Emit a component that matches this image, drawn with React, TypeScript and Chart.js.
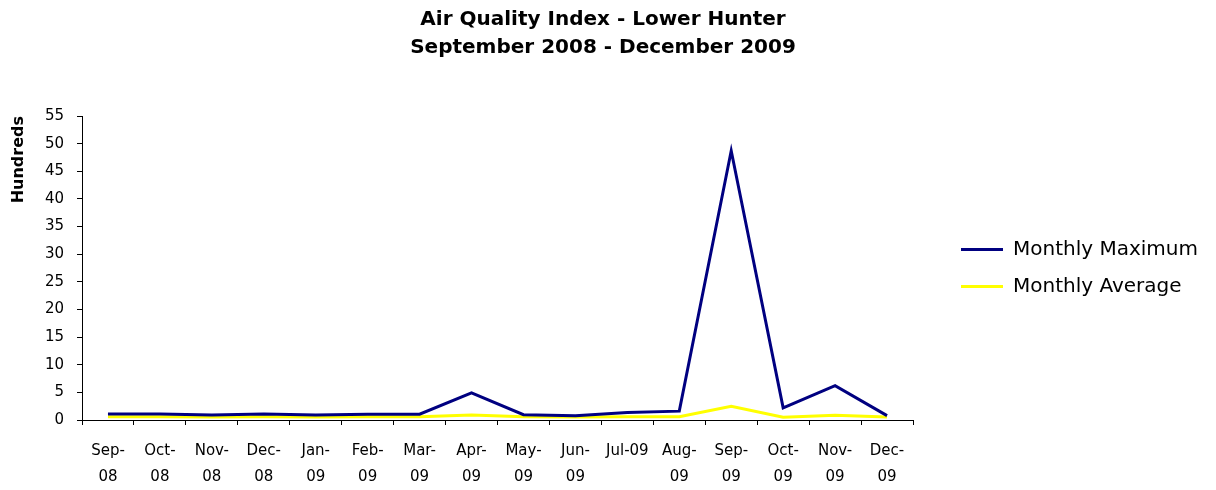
import React, { useEffect, useRef } from 'react';
import { Chart, registerables } from 'chart.js';

Chart.register(...registerables);

const FONT = '"DejaVu Sans", sans-serif';

const titleLines = ['Air Quality Index - Lower Hunter', 'September 2008 - December 2009'];
const yAxisTitle = 'Hundreds';

const categories: (string | string[])[] = [
  ['Sep-', '08'], ['Oct-', '08'], ['Nov-', '08'], ['Dec-', '08'],
  ['Jan-', '09'], ['Feb-', '09'], ['Mar-', '09'], ['Apr-', '09'],
  ['May-', '09'], ['Jun-', '09'], 'Jul-09', ['Aug-', '09'],
  ['Sep-', '09'], ['Oct-', '09'], ['Nov-', '09'], ['Dec-', '09'],
];

const monthlyMaximum = [1.1, 1.1, 0.9, 1.1, 0.9, 1.05, 1.05, 4.9, 0.95, 0.75, 1.35, 1.6, 48.7, 2.2, 6.2, 0.8];
const monthlyAverage = [0.6, 0.6, 0.55, 0.6, 0.55, 0.6, 0.6, 0.9, 0.6, 0.55, 0.6, 0.6, 2.5, 0.5, 0.85, 0.55];

const yMin = 0;
const yMax = 55;
const yStep = 5;

// Legend placement tweaks (space reserved right of plot, gap before legend, vertical shift)
const LEGEND_RESERVED = 285;
const LEGEND_GAP = 31;
const LEGEND_SHIFT_Y = 19;

const legendPlacement = {
  id: 'legendPlacement',
  beforeLayout(chart: any) {
    const lg = chart.legend;
    if (lg && !lg.__patched) {
      const orig = lg.fit.bind(lg);
      lg.fit = function () {
        orig();
        this.width = LEGEND_RESERVED;
      };
      lg.__patched = true;
    }
  },
  afterLayout(chart: any) {
    const lg = chart.legend;
    if (lg) {
      lg.left = chart.chartArea.right + LEGEND_GAP;
      lg.top += LEGEND_SHIFT_Y;
      lg.bottom += LEGEND_SHIFT_Y;
    }
  },
};

export default function App() {
  const ref = useRef<HTMLCanvasElement | null>(null);

  useEffect(() => {
    if (!ref.current) return;
    const chart = new Chart(ref.current, {
      type: 'line',
      data: {
        labels: categories,
        datasets: [
          {
            label: 'Monthly Maximum',
            data: monthlyMaximum,
            borderColor: '#000080',
            backgroundColor: '#000080',
            borderWidth: 3,
            pointRadius: 0,
            tension: 0,
          },
          {
            label: 'Monthly Average',
            data: monthlyAverage,
            borderColor: '#FFFF00',
            backgroundColor: '#FFFF00',
            borderWidth: 3,
            pointRadius: 0,
            tension: 0,
          },
        ],
      },
      plugins: [legendPlacement],
      options: {
        animation: false,
        responsive: false,
        layout: { padding: { left: 0, right: 10, top: 0, bottom: 0 } },
        plugins: {
          title: {
            display: true,
            text: titleLines,
            color: '#000',
            font: { family: FONT, size: 20, weight: 'bold', lineHeight: 1.4 },
            padding: { top: -2, bottom: 54 },
          },
          legend: {
            position: 'right',
            labels: {
              color: '#000',
              font: { family: FONT, size: 20 },
              boxWidth: 42,
              boxHeight: 3,
              padding: 17,
              generateLabels: (c: any) =>
                Chart.defaults.plugins.legend.labels.generateLabels(c).map((l: any) => ({
                  ...l,
                  fillStyle: l.strokeStyle,
                  lineWidth: 0,
                })),
            },
          },
          tooltip: { enabled: false },
        },
        scales: {
          x: {
            type: 'category',
            offset: true,
            grid: {
              display: true,
              offset: true,
              drawOnChartArea: false,
              drawTicks: true,
              tickLength: 5,
              color: '#000',
            },
            border: { display: true, color: '#000', width: 1 },
            ticks: {
              color: '#000',
              font: { family: FONT, size: 15, lineHeight: 1.75 },
              padding: 13,
              autoSkip: false,
              maxRotation: 0,
              minRotation: 0,
            },
            afterFit: (s: any) => {
              s.height = 70;
            },
          },
          y: {
            type: 'linear',
            position: 'left',
            min: yMin,
            max: yMax,
            ticks: {
              stepSize: yStep,
              color: '#000',
              font: { family: FONT, size: 15 },
              padding: 13,
            },
            grid: {
              display: true,
              drawOnChartArea: false,
              drawTicks: true,
              tickLength: 5,
              color: '#000',
            },
            border: { display: true, color: '#000', width: 1 },
            title: {
              display: true,
              text: yAxisTitle,
              align: 'end',
              color: '#000',
              font: { family: FONT, size: 16, weight: 'bold' },
              padding: { top: 1, bottom: 0 },
            },
            afterFit: (s: any) => {
              s.width = 74;
            },
          },
        },
      },
    } as any);
    return () => chart.destroy();
  }, []);

  return (
    <div style={{ position: 'absolute', left: 8, top: 8, width: 1200, height: 482 }}>
      <canvas ref={ref} width={1200} height={482} style={{ display: 'block' }} />
    </div>
  );
}
